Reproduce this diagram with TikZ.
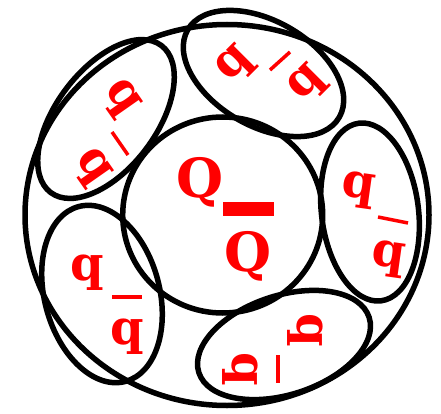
\documentclass[tikz,border=0pt]{standalone}
\usepackage{fontspec}
\setmainfont{DejaVu Serif}
\usetikzlibrary{shapes.geometric}
\tikzset{
  ring/.style={draw=black, line width=5.5pt, ellipse, inner sep=0pt},
  quark/.style={text=red, inner sep=0pt, font=\fontsize{48}{48}\selectfont\bfseries},
  heavy/.style={text=red, inner sep=0pt, font=\fontsize{54}{54}\selectfont\bfseries},
  qbar/.style={draw=red, line width=3.5pt},
}
\begin{document}
\begin{tikzpicture}[x=1pt,y=1pt]
\useasboundingbox (0,0) rectangle (441,413);
% outer and inner
\node[ring, minimum width=404pt, minimum height=381pt] (outer) at (227,198) {};
\node[ring, minimum width=200pt, minimum height=196pt] (inner) at (222.7,198) {};
% five ellipses
\node[ring, minimum width=179pt, minimum height=97pt, rotate=97] (eR) at (370,201) {};
\node[ring, minimum width=175pt, minimum height=105pt, rotate=-30] (eT) at (263.5,339.5) {};
\node[ring, minimum width=184pt, minimum height=100pt, rotate=53] (eLT) at (106,294) {};
\node[ring, minimum width=181pt, minimum height=115pt, rotate=-75] (eLB) at (102,119) {};
\node[ring, minimum width=179pt, minimum height=99pt, rotate=18] (eB) at (284,68) {};
% centre Q Qbar
\node[heavy] (Q1) at (200,230.5) {Q};
\node[heavy] (Q2) at (248.5,157) {Q};
\fill[red] (223,197) rectangle (274,211);
% right
\node[quark, rotate=-8] (rq1) at (358,223) {q};
\node[quark, rotate=-8] (rq2) at (388,154) {q};
\coordinate (rb1) at (378,196); \coordinate (rb2) at (408,190);
\draw[qbar] (rb1) -- (rb2);
% left bottom
\node[quark] (lbq1) at (87.5,140.5) {q};
\node[quark] (lbq2) at (127.5,76.5) {q};
\coordinate (lbb1) at (112,116); \coordinate (lbb2) at (142,116);
\draw[qbar] (lbb1) -- (lbb2);
% bottom
\node[quark, rotate=-90] (bq1) at (305,83) {q};
\node[quark, rotate=-90] (bq2) at (240,44) {q};
\coordinate (bb1) at (278,58); \coordinate (bb2) at (278,30);
\draw[qbar] (bb1) -- (bb2);
% top
\node[quark, rotate=45] (tq1) at (236,348) {q};
\node[quark, rotate=45] (tq2) at (308,329) {q};
\coordinate (tb1) at (270,343); \coordinate (tb2) at (290,361);
\draw[qbar] (tb1) -- (tb2);
% left top
\node[quark, rotate=-55] (ltq1) at (121,314) {q};
\node[quark, rotate=-55] (ltq2) at (92,245) {q};
\coordinate (ltb1) at (112,281); \coordinate (ltb2) at (128,258);
\draw[qbar] (ltb1) -- (ltb2);
\end{tikzpicture}
\end{document}
